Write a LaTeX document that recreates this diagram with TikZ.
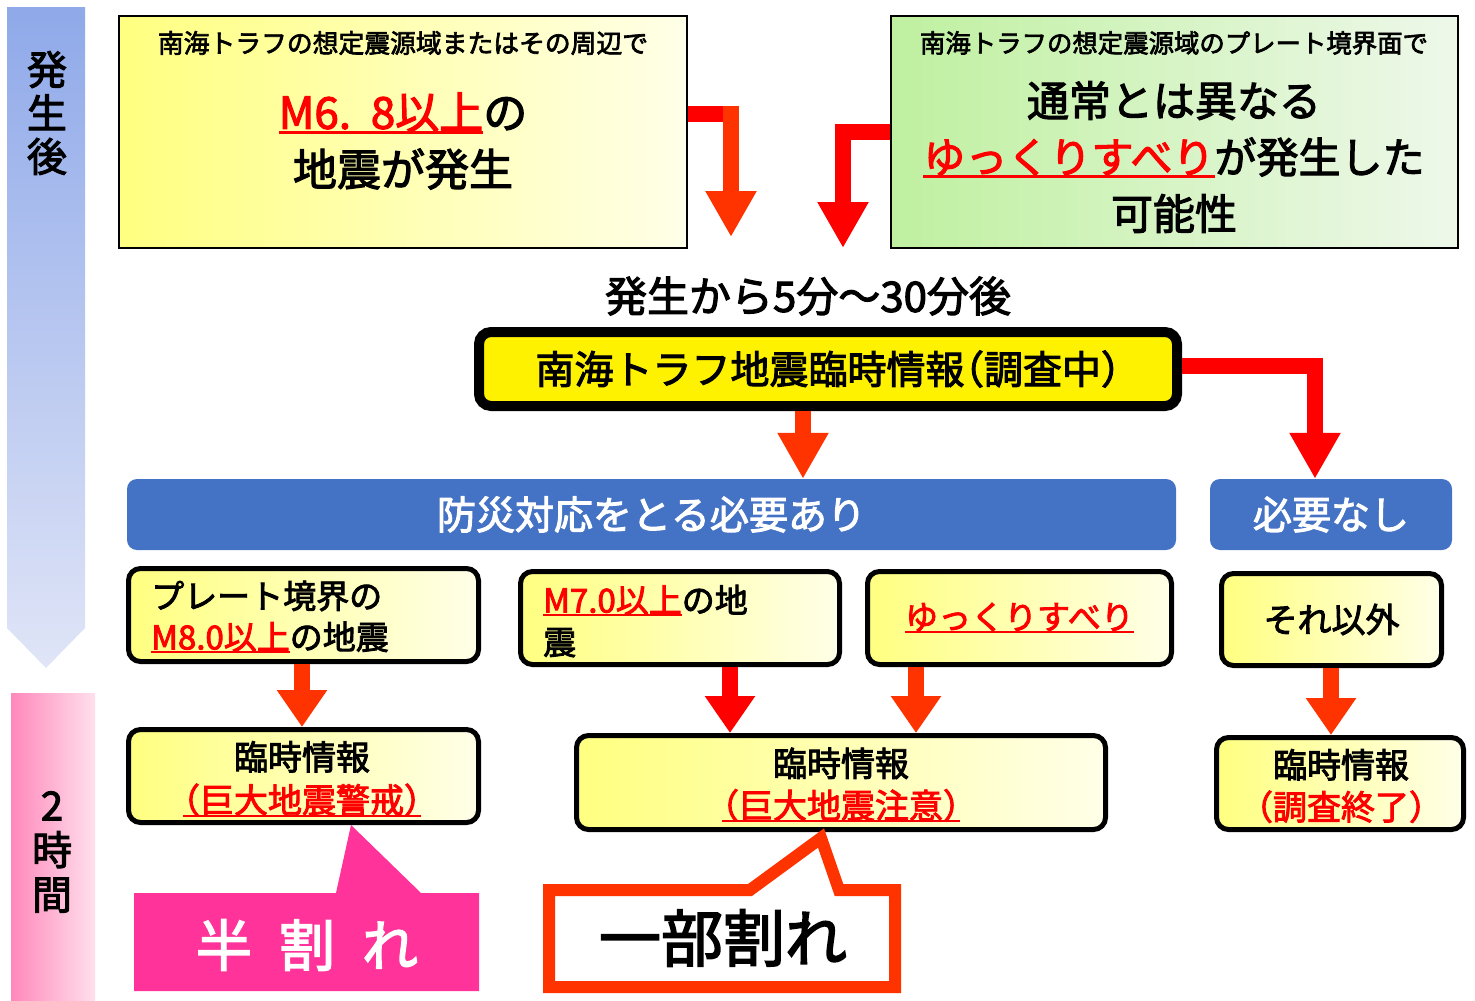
\documentclass[tikz,border=0pt]{standalone}
\usepackage{fontspec}
\setmainfont{Noto Sans CJK JP}[FakeBold=2.6]
\usetikzlibrary{arrows.meta,calc}
\definecolor{rd}{HTML}{FF0000}
\definecolor{orr}{HTML}{FF3300}
\definecolor{ylL}{HTML}{FFFF80}
\definecolor{ylR}{HTML}{FFFFE8}
\definecolor{grL}{HTML}{BFF0A0}
\definecolor{grR}{HTML}{EEF8EA}
\definecolor{bl}{HTML}{4472C4}
\definecolor{pk}{HTML}{FF3399}
\definecolor{bvT}{HTML}{8FA9E9}
\definecolor{bvB}{HTML}{E0E5F7}
\definecolor{pvL}{HTML}{FF88BB}
\definecolor{pvR}{HTML}{FFE0EC}
\newcommand\fs[1]{\fontsize{#1}{#1}\selectfont}
\newcommand\fsl[2]{\fontsize{#1}{#2}\selectfont}
\newcommand\hw{\addfontfeature{RawFeature=+halt}}
\newcommand\ru[1]{\setbox0\hbox{\textcolor{rd}{#1}}\rlap{\textcolor{rd}{\rule[-0.12em]{\wd0}{0.065em}}}\box0}
\begin{document}
\begin{tikzpicture}[x=1pt,y=-1pt,
  ybox/.style={draw=black, line width=5pt, rounded corners=12pt, left color=ylL, right color=ylR, inner sep=0pt},
  bbar/.style={fill=bl, rounded corners=10pt, inner sep=0pt, text=white},
  arr/.style={line width=16pt, line join=miter, -{Triangle[width=48pt,length=46pt]}},
  sarr/.style={line width=16pt, -{Triangle[width=48pt,length=37pt]}},
  lbl/.style={inner sep=0pt}
]
\useasboundingbox (0,0) rectangle (1475,1001);
% side bars
\shade[top color=bvT, bottom color=bvB] (7,7) -- (85,7) -- (85,628) -- (46,668) -- (7,628) -- cycle;
\node[lbl, font=\fsl{40}{43.5}, align=center] (sideA) at (47,113) {発\\生\\後};
\shade[left color=pvL, right color=pvR] (11,693) rectangle (95,1001);
\node[lbl, font=\fsl{40}{44.5}, align=center] (sideB) at (52,852) {2\\時\\間};

% top boxes
\node[draw=black, line width=2pt, left color=ylL, right color=ylR, minimum width=568, minimum height=232, inner sep=0pt] (TL) at (403,132) {};
\node[lbl, font=\fs{25.8}] (TLa) at (403,43) {南海トラフの想定震源域またはその周辺で};
\node[lbl, font=\fsl{44}{57}, align=center] (TLb) at (403,141) {\ru{M6.\hspace{0.45em}8以上}の\\地震が発生};
\node[draw=black, line width=2pt, left color=grL, right color=grR, minimum width=567, minimum height=232, inner sep=0pt] (TR) at (1174.5,132) {};
\node[lbl, font=\fs{25.4}] (TRa) at (1174,43) {南海トラフの想定震源域のプレート境界面で};
\node[lbl, font=\fsl{42}{56.5}, align=center] (TRb) at (1174,157) {通常とは異なる\\\ru{ゆっくりすべり}が発生した\\可能性};

% top arrows
\coordinate (k1) at (731,114);
\coordinate (k1s) at (731,106);
\coordinate (e1) at (731,237);
\draw[line width=16pt, draw=rd] (TL.east |- k1) -- (739,114);
\draw[arr, draw=orr] (k1s) -- (e1);
\coordinate (k2) at (843,132);
\coordinate (e2) at (843,248);
\draw[arr, draw=rd] (TR.west |- k2) -- (k2) -- (e2);

\node[lbl, font=\fs{42}] (time) at (808,296) {発生から5分～30分後};

% main box
\node[draw=black, line width=10pt, fill=yellow, rounded corners=12pt, minimum width=698, minimum height=74, inner sep=0pt, font=\fs{39}] (main) at (828,369) {南海トラフ地震臨時情報{\hw（調査中）}};

% blue bars
\node[bbar, minimum width=1049, minimum height=71, font=\fs{39}] (B1) at (651.5,514.5) {防災対応をとる必要あり};
\node[bbar, minimum width=242, minimum height=71, font=\fs{39}] (B2) at (1331,514.5) {必要なし};

\coordinate (k4) at (803,0);
\draw[arr, draw=orr] (main.south -| k4) -- (B1.north -| k4);
\coordinate (k3) at (1315,366);
\draw[arr, draw=rd] (main.east |- k3) -- (k3) -- (B2.north -| k3);

% row 1
\node[ybox, minimum width=350, minimum height=93] (A) at (303.5,615) {};
\node[lbl, font=\fsl{33}{41}, align=left, anchor=west] (At) at (151,617) {プレート境界の\\\ru{M8.0以上}の地震};
\node[ybox, minimum width=319, minimum height=93] (B) at (680,618) {};
\node[lbl, font=\fsl{33}{42}, align=left, anchor=west] (Bt) at (543,621) {\ru{M7.0以上}の地\\震};
\node[ybox, minimum width=304, minimum height=93, font=\fs{33}] (C) at (1019.5,618) {\ru{ゆっくりすべり}};
\node[ybox, minimum width=220, minimum height=92, font=\fs{34}] (D) at (1331.5,619.5) {それ以外};

% row 2
\node[ybox, minimum width=350, minimum height=93] (E) at (303.5,776) {};
\node[lbl, font=\fsl{34}{43}, align=center] (Et) at (302,779) {臨時情報\\\ru{\hw（巨大地震警戒）}};
\node[ybox, minimum width=529, minimum height=94] (F) at (841,782.5) {};
\node[lbl, font=\fsl{34}{42}, align=center] (Ft) at (841,785) {臨時情報\\\ru{\hw（巨大地震注意）}};
\node[ybox, minimum width=247, minimum height=92] (G) at (1340,783.5) {};
\node[lbl, font=\fsl{34}{42}, align=center] (Gt) at (1341,786) {臨時情報\\\textcolor{rd}{\hw（調査終了）}};

% row arrows
\coordinate (c1) at (302,0);
\coordinate (c2) at (730,0);
\coordinate (c3) at (916,0);
\coordinate (c4) at (1331,0);
\draw[sarr, draw=orr] (A.south -| c1) -- (E.north -| c1);
\draw[sarr, draw=rd] (B.south -| c2) -- (F.north -| c2);
\draw[sarr, draw=orr] (C.south -| c3) -- (F.north -| c3);
\draw[sarr, draw=orr] (D.south -| c4) -- (G.north -| c4);

% callouts
\fill[pk] (134,893) -- (336,893) -- (351,825) -- (421,893) -- (479,893) -- (479,991) -- (134,991) -- cycle;
\node[lbl, text=white, font=\fs{56}] (half) at (307,945) {半\hspace{27pt}割\hspace{27pt}れ};
\draw[draw=orr, line width=12pt, fill=white, line join=miter] (549,890) -- (750,890) -- (821,838) -- (839,890) -- (895,890) -- (895,987) -- (549,987) -- cycle;
\node[lbl, font=\fs{62}] (part) at (723,938) {一部割れ};
\end{tikzpicture}
\end{document}
